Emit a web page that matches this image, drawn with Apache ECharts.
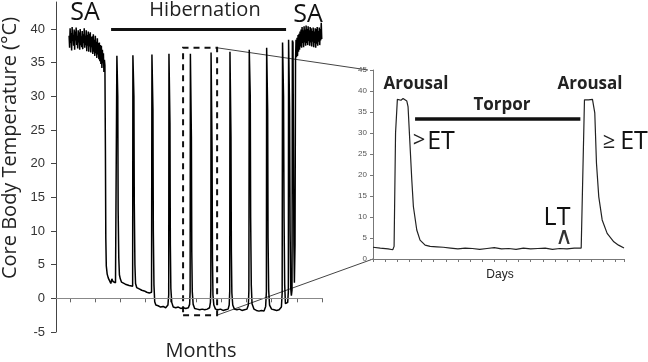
<!DOCTYPE html>
<html>
<head>
<meta charset="utf-8">
<script src="https://cdn.jsdelivr.net/npm/echarts@6/dist/echarts.min.js"></script>
<style>
  html, body { margin: 0; padding: 0; background: #fff; }
  #chart { width: 648px; height: 362px; }
</style>
</head>
<body>
<div id="chart"></div>
<script>
// main record, x in days (axis 0..211), temperature in °C
const noiseStep = 0.4;
const saStartDay = 10.4;
const saStartTemps = [
  39.0, 37.2, 40.1, 37.9, 39.4, 36.8, 40.3, 38.2, 39.1, 37.5, 39.9, 36.9, 39.6, 38.3, 40.2, 37.6,
  39.0, 37.1, 39.8, 38.0, 39.5, 36.9, 40.0, 37.6, 38.9, 37.3,
  39.7, 37.0, 39.2, 37.9, 40.1, 37.2, 39.0, 37.6, 39.8, 36.7, 39.1, 37.5, 39.6, 36.6, 39.3, 37.4,
  39.5, 36.5, 38.8, 37.3,
  38.9, 36.3, 39.2, 36.6, 38.4, 36.0, 39.0, 36.4, 38.1, 35.7, 38.6, 36.2, 37.9, 35.5, 38.0,
  35.2, 37.6, 34.8, 37.5, 34.2, 36.9, 34.9, 36.4, 33.6, 35.4
];
const saEndDay = 190.0;
const saEndTemps = [
  35.3, 38.4, 35.8, 38.7, 36.0, 39.1, 36.6, 39.3,
  36.9, 39.6, 37.4, 39.9, 37.2, 40.3, 37.9, 39.8, 37.3, 40.4, 38.0, 39.9, 37.5,
  40.5, 37.9, 40.0, 37.6, 40.4, 38.2, 39.8, 37.5, 40.3, 38.0, 40.1, 37.4, 39.7, 38.1, 40.2, 37.3,
  39.6, 37.9, 40.1, 37.2,
  40.0, 37.8, 40.3, 37.5, 39.7, 38.1, 40.2, 37.6, 40.0, 38.3, 40.9, 38.5
];
// torpor bouts and arousal spikes between the two SA periods
const hibernation = [
  [38.8, 34.6], [39.2, 22.0], [39.5, 9.0], [39.9, 4.8], [40.6, 3.6], [41.5, 3.0], [42.5, 2.8],
  [43.5, 2.2], [44.3, 2.9], [45.2, 2.5], [46.2, 2.7], [47.2, 2.3], [48.0, 2.5],
  [48.3, 36.0], [48.7, 36.2], [49.0, 30.0], [49.3, 13.0], [49.8, 6.0], [50.3, 3.5], [51.0, 2.9],
  [52.0, 2.4], [53.5, 2.6], [55.0, 2.1], [56.5, 2.3], [58.0, 1.9], [59.5, 2.1], [60.8, 1.8],
  [61.0, 36.1], [61.5, 36.3], [61.8, 30.0], [62.1, 14.0], [62.6, 5.0], [63.1, 2.2], [64.0, 1.6],
  [66.0, 1.4], [68.0, 1.2], [70.0, 1.1], [72.0, 0.9], [74.0, 0.8], [75.8, 0.9],
  [76.1, 36.2], [76.6, 36.3], [76.9, 28.0], [77.2, 10.0], [77.7, 2.0], [78.3, -0.5], [79.2, -1.0],
  [81.0, -1.1], [83.0, -1.3], [85.0, -1.2], [87.0, -1.4], [88.8, -1.0], [89.4, 0.5],
  [89.6, 36.3], [90.1, 36.2], [90.4, 26.0], [90.7, 8.0], [91.1, 1.5], [91.8, -0.6], [93.0, -1.3],
  [95.0, -1.4], [97.0, -1.3], [99.0, -1.5], [101.0, -1.4], [103.0, -1.5], [105.0, -1.4],
  [106.0, -0.9], [106.4, 1.0],
  [106.6, 36.3], [107.1, 36.2], [107.4, 24.0], [107.7, 7.0], [108.1, 1.0], [108.8, -0.9],
  [110.0, -1.5], [112.0, -1.6], [114.0, -1.7], [116.0, -1.6], [118.0, -1.7], [120.0, -1.6],
  [121.8, -1.4], [122.5, -0.6], [122.8, 1.5],
  [123.0, 36.5], [123.5, 36.4], [123.8, 22.0], [124.1, 6.0], [124.5, 0.5], [125.2, -1.0],
  [126.5, -1.6], [128.5, -1.7], [130.5, -1.6], [132.5, -1.8], [134.5, -1.7], [136.5, -1.6],
  [137.4, -1.0], [137.8, 1.0],
  [138.0, 36.6], [138.5, 36.5], [138.8, 24.0], [139.1, 7.0], [139.5, 0.8], [140.2, -1.0],
  [141.5, -1.6], [143.5, -1.7], [145.5, -1.6], [147.5, -1.8], [149.5, -1.7], [151.5, -1.6],
  [152.6, -1.0], [153.0, 1.2],
  [153.3, 36.9], [153.8, 36.8], [154.1, 30.0], [154.4, 12.0], [154.9, 2.0], [155.5, -0.8],
  [157.0, -1.6], [159.0, -1.8], [161.0, -1.9], [163.0, -1.8], [165.0, -1.9], [166.3, -1.2],
  [166.9, 1.0],
  [167.1, 37.2], [167.6, 37.0], [167.9, 28.0], [168.2, 9.0], [168.7, 1.2], [169.4, -1.0],
  [171.0, -1.6], [173.0, -1.7], [175.0, -1.8], [177.0, -1.7], [178.8, -1.3], [179.4, 0.8],
  [179.7, 38.0], [180.2, 37.8], [180.5, 30.0], [180.9, 12.0], [181.4, 2.0], [182.0, -0.8],
  [183.0, -1.0], [183.8, -0.6], [184.3, 1.0],
  [184.5, 38.4], [185.0, 38.2], [185.3, 28.0], [185.7, 10.0], [186.2, 1.5], [186.7, 0.4], [187.2, 1.2],
  [187.5, 38.3], [188.0, 38.0], [188.3, 25.0], [188.7, 8.0], [189.1, 2.3], [189.6, 8.0]
];
const mainXTicks = [11, 31, 51, 71, 91, 111, 131, 151, 171, 191, 211];
const mainYTicks = [-5, 0, 5, 10, 15, 20, 25, 30, 35, 40];
const zoomBoxDays = [100.8, 127.8];
const zoomBoxTemps = [-2.5, 37.2];
const hibernationBar = [43.7, 182.5, 40];

// inset: one torpor bout between two arousals
const insetDays = [
  0, 0.6, 1.24, 1.63, 1.74, 1.86, 2.01, 2.15, 2.31, 2.48,
  2.64, 2.79, 2.89, 3.06, 3.20, 3.33, 3.61, 3.88, 4.30, 4.71,
  5.26, 5.8, 6.4, 7.0, 7.6, 8.2, 8.8, 9.4, 10.0, 10.6,
  11.2, 11.8, 12.4, 13.0, 13.6, 14.2, 14.8, 15.4, 16.0, 16.6,
  17.17, 17.33, 17.44, 17.6, 17.77, 17.93, 18.1, 18.2, 18.29, 18.43,
  18.62, 18.9, 19.31, 19.86, 20.25, 20.7
];
const insetTemps = [
  2.8, 2.6, 2.4, 2.2, 3.0, 30.0, 38.0, 38.3, 37.8, 38.2,
  38.0, 37.6, 36.3, 26.7, 18.8, 12.5, 6.9, 4.5, 3.3, 3.0,
  2.9, 2.8, 2.6, 2.4, 2.6, 2.5, 2.3, 2.5, 2.7, 2.4,
  2.5, 2.3, 2.6, 2.4, 2.5, 2.6, 2.3, 2.5, 2.4, 2.6,
  2.6, 2.9, 37.9, 38.3, 37.9, 38.2, 38.0, 37.6, 34.8, 22.8,
  14.8, 9.3, 6.1, 4.1, 3.3, 2.6
];
const torporBar = [3.47, 17.1, 33.3];

const mainData = []
  .concat(saStartTemps.map((t, i) => [saStartDay + i * noiseStep, t]))
  .concat(hibernation)
  .concat(saEndTemps.map((t, i) => [saEndDay + i * noiseStep, t]));
const insetData = insetDays.map((d, i) => [d, insetTemps[i]]);

const chart = echarts.init(document.getElementById('chart'));
const axisFont = 'Liberation Sans, Arial, sans-serif';
const textFont = 'Open Sans, sans-serif';

chart.setOption({
  animation: false,
  grid: [
    { left: 56, top: 2, right: 326, bottom: 30 },
    { left: 373, top: 70, right: 24, bottom: 103 }
  ],
  xAxis: [
    {
      gridIndex: 0, type: 'value', min: 0, max: 211,
      axisLine: { lineStyle: { color: '#666', width: 1 } },
      axisTick: { show: true, length: 4, customValues: mainXTicks, lineStyle: { color: '#666' } },
      axisLabel: { show: false },
      splitLine: { show: false }
    },
    {
      gridIndex: 1, type: 'value', min: 0, max: 20.7, interval: 1,
      axisLine: { lineStyle: { color: '#777', width: 1 } },
      axisTick: { show: true, length: 3, lineStyle: { color: '#777' } },
      axisLabel: { show: false },
      splitLine: { show: false }
    }
  ],
  yAxis: [
    {
      gridIndex: 0, type: 'value', min: -5, max: 44, interval: 5,
      axisLine: { show: true, lineStyle: { color: '#444', width: 1 } },
      axisTick: { show: true, length: 5, customValues: mainYTicks, lineStyle: { color: '#444' } },
      axisLabel: {
        customValues: mainYTicks, fontFamily: axisFont, fontSize: 13, color: '#333', margin: 11
      },
      splitLine: { show: false }
    },
    {
      gridIndex: 1, type: 'value', min: 0, max: 45, interval: 5,
      axisLine: { show: true, lineStyle: { color: '#777', width: 1 } },
      axisTick: { show: true, length: 3, lineStyle: { color: '#777' } },
      axisLabel: { fontFamily: axisFont, fontSize: 8, color: '#555', margin: 6 },
      splitLine: { show: false }
    }
  ],
  series: [
    {
      type: 'line', xAxisIndex: 0, yAxisIndex: 0, data: mainData,
      showSymbol: false, symbol: 'none',
      lineStyle: { color: '#000', width: 1.5 },
      z: 3,
      markLine: {
        silent: true, symbol: 'none', label: { show: false },
        data: [
          { yAxis: 0, lineStyle: { color: '#888', width: 1, type: 'solid' } },
          [
            { coord: [hibernationBar[0], hibernationBar[2]], lineStyle: { color: '#111', width: 3, type: 'solid' } },
            { coord: [hibernationBar[1], hibernationBar[2]] }
          ]
        ]
      },
      markArea: {
        silent: true,
        itemStyle: { color: 'rgba(0,0,0,0)', borderColor: '#111', borderWidth: 2, borderType: [6, 5] },
        data: [[
          { coord: [zoomBoxDays[0], zoomBoxTemps[0]] },
          { coord: [zoomBoxDays[1], zoomBoxTemps[1]] }
        ]]
      }
    },
    {
      type: 'line', xAxisIndex: 1, yAxisIndex: 1, data: insetData,
      showSymbol: false, symbol: 'none',
      lineStyle: { color: '#222', width: 1.2 },
      markLine: {
        silent: true, symbol: 'none', label: { show: false },
        data: [[
          { coord: [torporBar[0], torporBar[2]], lineStyle: { color: '#111', width: 3.5, type: 'solid' } },
          { coord: [torporBar[1], torporBar[2]] }
        ]]
      }
    }
  ]
});

// connector lines from the dashed box to the inset corners
const boxTop = chart.convertToPixel({ gridIndex: 0 }, [zoomBoxDays[1], zoomBoxTemps[1]]);
const boxBottom = chart.convertToPixel({ gridIndex: 0 }, [zoomBoxDays[1], zoomBoxTemps[0]]);
const insetTop = chart.convertToPixel({ gridIndex: 1 }, [0, 45]);
const insetBottom = chart.convertToPixel({ gridIndex: 1 }, [0, 0]);

function label(text, x, y, size, weight, color, family) {
  return {
    type: 'text', x: x, y: y, silent: true,
    style: {
      text: text, fontSize: size, fontWeight: weight || 'normal', fontFamily: family || textFont,
      fill: color || '#111', align: 'center', verticalAlign: 'middle',
      textAlign: 'center', textVerticalAlign: 'middle'
    }
  };
}

chart.setOption({
  graphic: [
    {
      type: 'line', silent: true,
      shape: { x1: boxTop[0], y1: boxTop[1], x2: insetTop[0] - 5, y2: insetTop[1] },
      style: { stroke: '#444', lineWidth: 1 }
    },
    {
      type: 'line', silent: true,
      shape: { x1: boxBottom[0], y1: boxBottom[1], x2: insetBottom[0], y2: insetBottom[1] },
      style: { stroke: '#444', lineWidth: 1 }
    },
    label('SA', 85, 13, 25),
    label('Hibernation', 205, 10, 20, 'normal', '#222'),
    label('SA', 308, 15, 25),
    label('Months', 201, 351, 20, 'normal', '#222'),
    Object.assign(label('Core Body Temperature (°C)', 10, 148, 20, 'normal', '#222'), { rotation: Math.PI / 2 }),
    label('Arousal', 416, 84, 17, 'bold', '#222'),
    label('Arousal', 590, 84, 17, 'bold', '#222'),
    label('Torpor', 502, 105, 17, 'bold', '#222'),
    label('>', 419, 141, 22, 'normal', '#222'),
    label('ET', 441, 142, 25, 'normal', '#111'),
    label('≥', 609, 142, 22, 'normal', '#222'),
    label('ET', 634, 142, 25, 'normal', '#111'),
    label('LT', 557, 218, 25, 'normal', '#111'),
    label('∧', 564, 238, 24, 'normal', '#333', 'DejaVu Sans, sans-serif'),
    label('Days', 500, 275, 12, 'normal', '#222', axisFont)
  ]
});
</script>
</body>
</html>
